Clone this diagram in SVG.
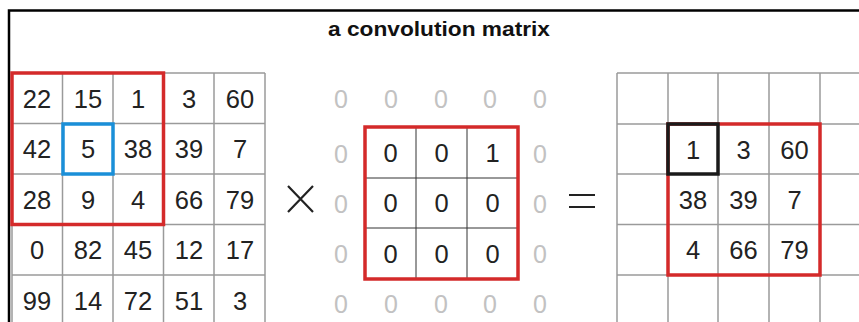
<svg xmlns="http://www.w3.org/2000/svg" width="859" height="322" viewBox="0 0 859 322">
<style>
.num{font-family:"Liberation Sans",Arial,sans-serif;font-size:25.5px;fill:#222;text-anchor:middle}
.gz{font-family:"Liberation Sans",Arial,sans-serif;font-size:25px;fill:#c2c2c2;text-anchor:middle}
.grid{stroke:#9a9a9a;stroke-width:1.5;fill:none}
.kgrid{stroke:#333;stroke-width:1;fill:none}
.red{stroke:#d42a2a;stroke-width:3.5;fill:none}
.title{font-family:"Liberation Sans",Arial,sans-serif;font-size:20px;font-weight:bold;fill:#111;text-anchor:middle}
</style>
<rect width="859" height="322" fill="#fff"/>
<g id="frame">
<path d="M9 322 V10.5 H859" stroke="#000" stroke-width="2.5" fill="none"/>
</g>
<g id="title">
<text class="title" x="439" y="36" textLength="222" lengthAdjust="spacingAndGlyphs">a convolution matrix</text>
</g>
<g id="input-matrix">
<path class="grid" d="M12 73 H265 M12 123.5 H265 M12 174 H265 M12 224.5 H265 M12 275 H265 M12 73 V322 M62.5 73 V322 M113 73 V322 M163.5 73 V322 M214 73 V322 M265 73 V322"/>
<g class="num">
<text x="37" y="107.5">22</text><text x="88" y="107.5">15</text><text x="138" y="107.5">1</text><text x="189" y="107.5">3</text><text x="240" y="107.5">60</text>
<text x="37" y="158">42</text><text x="88" y="158">5</text><text x="138" y="158">38</text><text x="189" y="158">39</text><text x="240" y="158">7</text>
<text x="37" y="208.5">28</text><text x="88" y="208.5">9</text><text x="138" y="208.5">4</text><text x="189" y="208.5">66</text><text x="240" y="208.5">79</text>
<text x="37" y="259">0</text><text x="88" y="259">82</text><text x="138" y="259">45</text><text x="189" y="259">12</text><text x="240" y="259">17</text>
<text x="37" y="309.5">99</text><text x="88" y="309.5">14</text><text x="138" y="309.5">72</text><text x="189" y="309.5">51</text><text x="240" y="309.5">3</text>
</g>
<rect class="red" x="12" y="73" width="151.5" height="151.5"/>
<rect x="63" y="124" width="50" height="50" fill="none" stroke="#1a8fd8" stroke-width="3.5"/>
</g>
<g id="times">
<path d="M288 186 L313 212 M313 186 L288 212" stroke="#222" stroke-width="2.2"/>
</g>
<g id="kernel">
<g class="gz">
<text x="341" y="107.5">0</text><text x="391" y="107.5">0</text><text x="441" y="107.5">0</text><text x="490" y="107.5">0</text><text x="540" y="107.5">0</text>
<text x="341" y="162.5">0</text><text x="540" y="162.5">0</text>
<text x="341" y="212.5">0</text><text x="540" y="212.5">0</text>
<text x="341" y="263">0</text><text x="540" y="263">0</text>
<text x="341" y="313">0</text><text x="391" y="313">0</text><text x="441" y="313">0</text><text x="490" y="313">0</text><text x="540" y="313">0</text>
</g>
<path class="kgrid" d="M416 127 V279 M467 127 V279 M365 178 H518 M365 228 H518"/>
<g class="num">
<text x="390.5" y="162">0</text><text x="441.5" y="162">0</text><text x="492.5" y="162">1</text>
<text x="390.5" y="212">0</text><text x="441.5" y="212">0</text><text x="492.5" y="212">0</text>
<text x="390.5" y="262.5">0</text><text x="441.5" y="262.5">0</text><text x="492.5" y="262.5">0</text>
</g>
<rect class="red" x="365" y="127" width="153" height="152"/>
</g>
<g id="equals">
<path d="M569 195 H595 M569 207 H595" stroke="#222" stroke-width="2.2"/>
</g>
<g id="output-matrix">
<path class="grid" d="M617 73 H859 M617 124 H859 M617 174 H859 M617 224.5 H859 M617 275 H859 M617 73 V322 M668 73 V322 M718 73 V322 M769 73 V322 M820 73 V322"/>
<g class="num">
<text x="693" y="158.5">1</text><text x="743.5" y="158.5">3</text><text x="794.5" y="158.5">60</text>
<text x="693" y="208.5">38</text><text x="743.5" y="208.5">39</text><text x="794.5" y="208.5">7</text>
<text x="693" y="259">4</text><text x="743.5" y="259">66</text><text x="794.5" y="259">79</text>
</g>
<rect class="red" x="668" y="124" width="152" height="151"/>
<rect x="668" y="124" width="50" height="50" fill="none" stroke="#1a1a1a" stroke-width="3.5"/>
</g>
</svg>
